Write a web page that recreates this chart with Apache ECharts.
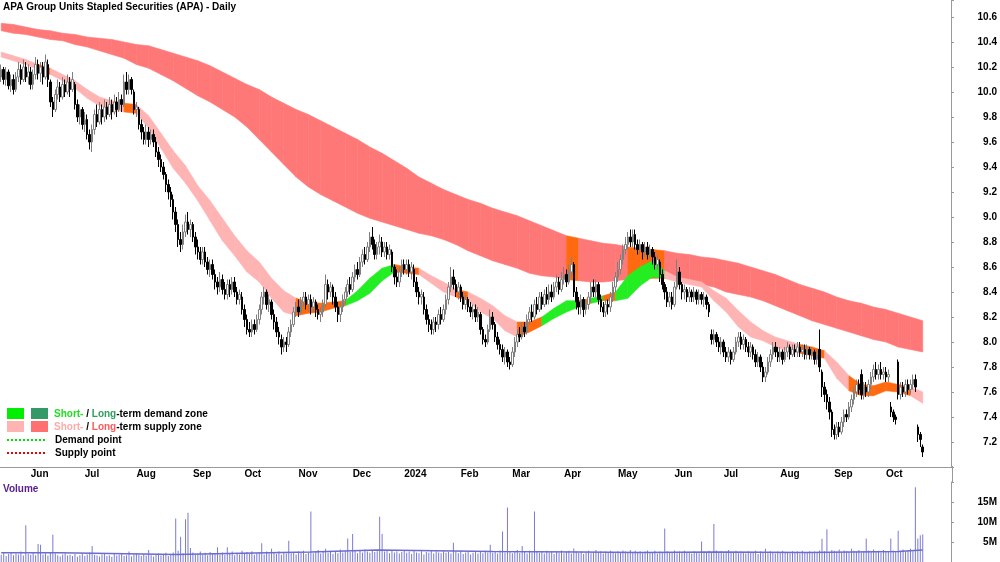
<!DOCTYPE html>
<html>
<head>
<meta charset="utf-8">
<script src="https://cdn.jsdelivr.net/npm/echarts@6/dist/echarts.min.js"></script>
<style>
  html, body { margin: 0; padding: 0; background: #fff; }
  #main { width: 1000px; height: 562px; }
</style>
</head>
<body>
<div id="main"></div>
<script>
// ---- data ----
var startDate = '2023-05-16';   // first bar
var slotCount = 387;            // trading-day slots on the axis (a few empty ones after the last bar)
var monthNames = ['Jan','Feb','Mar','Apr','May','Jun','Jul','Aug','Sep','Oct','Nov','Dec'];

// daily bars: [open, close, low, high]
var candles = [
  [10.12,10.18,10.08,10.22],[10.18,10.10,10.06,10.20],[10.10,10.16,10.05,10.20],[10.16,10.05,10.02,10.18],[10.05,10.10,10.00,10.14],
  [10.10,10.02,9.98,10.14],[10.02,10.12,10.00,10.16],[10.12,10.18,10.08,10.24],[10.18,10.10,10.06,10.22],[10.10,10.20,10.08,10.26],
  [10.20,10.12,10.08,10.24],[10.12,10.16,10.06,10.22],[10.16,10.06,10.02,10.20],[10.06,10.14,10.02,10.18],[10.14,10.22,10.10,10.28],
  [10.22,10.15,10.10,10.26],[10.15,10.20,10.08,10.24],[10.20,10.12,10.06,10.24],[10.12,10.24,10.10,10.30],[10.22,10.10,10.04,10.26],
  [10.08,9.92,9.88,10.10],[9.92,9.86,9.80,9.96],[9.86,9.98,9.84,10.02],[9.98,10.04,9.94,10.10],[10.04,9.96,9.92,10.08],
  [9.96,10.06,9.94,10.12],[10.06,10.00,9.96,10.10],[10.00,10.08,9.98,10.14],[10.08,10.02,9.96,10.12],[10.02,10.10,10.00,10.16],
  [10.06,9.90,9.86,10.08],[9.90,9.80,9.76,9.94],[9.80,9.86,9.74,9.90],[9.86,9.74,9.70,9.88],[9.74,9.78,9.68,9.84],
  [9.78,9.66,9.62,9.82],[9.66,9.60,9.54,9.70],[9.60,9.70,9.52,9.74],[9.70,9.82,9.66,9.86],[9.82,9.76,9.72,9.90],
  [9.76,9.86,9.74,9.92],[9.86,9.80,9.74,9.90],[9.80,9.88,9.76,9.94],[9.88,9.82,9.78,9.92],[9.82,9.90,9.80,9.96],
  [9.90,9.84,9.78,9.94],[9.84,9.92,9.82,9.98],[9.92,9.86,9.80,9.96],[9.86,9.94,9.84,10.00],[9.94,9.90,9.84,9.98],
  [9.90,10.08,9.88,10.14],[10.08,10.02,9.98,10.16],[10.02,10.10,9.98,10.14],[10.10,10.02,9.98,10.12],[10.00,9.86,9.82,10.02],
  [9.86,9.88,9.80,9.92],[9.86,9.74,9.70,9.88],[9.74,9.68,9.62,9.78],[9.68,9.62,9.58,9.72],[9.62,9.68,9.58,9.74],
  [9.68,9.62,9.56,9.72],[9.62,9.66,9.58,9.70],[9.66,9.60,9.56,9.70],[9.60,9.52,9.48,9.64],[9.52,9.46,9.40,9.56],
  [9.46,9.40,9.36,9.50],[9.40,9.34,9.30,9.44],[9.34,9.26,9.20,9.36],[9.26,9.20,9.14,9.30],[9.20,9.14,9.08,9.24],
  [9.14,9.04,8.98,9.18],[9.04,8.94,8.88,9.08],[8.94,8.82,8.76,8.98],[8.82,8.78,8.72,8.88],[8.78,8.88,8.74,8.94],
  [8.88,8.96,8.84,9.02],[8.96,8.90,8.86,9.04],[8.90,8.94,8.84,8.98],[8.94,8.84,8.80,8.96],[8.84,8.76,8.70,8.88],
  [8.76,8.72,8.66,8.82],[8.72,8.66,8.62,8.76],[8.66,8.72,8.62,8.76],[8.72,8.64,8.60,8.76],[8.64,8.58,8.54,8.68],
  [8.58,8.62,8.52,8.66],[8.62,8.54,8.50,8.66],[8.54,8.48,8.42,8.58],[8.48,8.44,8.38,8.52],[8.44,8.50,8.40,8.56],
  [8.50,8.42,8.38,8.54],[8.42,8.38,8.34,8.48],[8.38,8.46,8.34,8.50],[8.46,8.42,8.36,8.50],[8.42,8.48,8.38,8.52],
  [8.48,8.40,8.36,8.52],[8.40,8.34,8.30,8.44],[8.34,8.38,8.30,8.42],[8.36,8.26,8.22,8.40],[8.26,8.18,8.12,8.30],
  [8.18,8.10,8.06,8.22],[8.10,8.08,8.04,8.16],[8.08,8.14,8.04,8.18],[8.14,8.10,8.06,8.18],[8.10,8.18,8.08,8.22],
  [8.18,8.26,8.14,8.30],[8.26,8.36,8.22,8.40],[8.36,8.40,8.30,8.44],[8.40,8.30,8.26,8.42],[8.30,8.34,8.24,8.38],
  [8.32,8.22,8.18,8.34],[8.22,8.16,8.10,8.26],[8.16,8.08,8.04,8.20],[8.08,8.04,7.98,8.12],[8.02,7.96,7.90,8.06],
  [7.96,8.00,7.92,8.04],[8.00,7.98,7.92,8.04],[7.98,8.08,7.96,8.12],[8.08,8.14,8.04,8.18],[8.14,8.24,8.12,8.28],
  [8.24,8.28,8.20,8.32],[8.28,8.24,8.20,8.34],[8.24,8.32,8.22,8.36],[8.32,8.36,8.28,8.40],[8.36,8.30,8.26,8.40],
  [8.30,8.34,8.24,8.38],[8.34,8.28,8.22,8.38],[8.28,8.32,8.24,8.36],[8.32,8.26,8.20,8.34],[8.26,8.22,8.18,8.30],
  [8.22,8.24,8.16,8.28],[8.24,8.30,8.20,8.34],[8.30,8.46,8.28,8.54],[8.46,8.40,8.34,8.50],[8.40,8.44,8.36,8.48],
  [8.44,8.36,8.30,8.46],[8.36,8.28,8.24,8.40],[8.28,8.22,8.16,8.32],[8.22,8.28,8.16,8.32],[8.28,8.34,8.24,8.38],
  [8.34,8.40,8.30,8.44],[8.40,8.46,8.36,8.50],[8.46,8.42,8.38,8.52],[8.42,8.52,8.40,8.56],[8.52,8.58,8.48,8.62],
  [8.58,8.54,8.50,8.64],[8.54,8.64,8.52,8.68],[8.64,8.70,8.60,8.74],[8.70,8.66,8.62,8.76],[8.66,8.76,8.64,8.80],
  [8.76,8.84,8.72,8.88],[8.84,8.78,8.74,8.92],[8.78,8.70,8.66,8.82],[8.70,8.76,8.66,8.80],[8.76,8.80,8.70,8.86],
  [8.80,8.72,8.68,8.84],[8.72,8.76,8.68,8.80],[8.76,8.70,8.66,8.80],[8.70,8.74,8.66,8.78],[8.72,8.60,8.56,8.74],
  [8.60,8.52,8.46,8.62],[8.52,8.48,8.44,8.58],[8.48,8.56,8.44,8.60],[8.56,8.62,8.52,8.66],[8.62,8.58,8.54,8.66],
  [8.58,8.62,8.54,8.66],[8.62,8.56,8.52,8.66],[8.56,8.60,8.50,8.64],[8.58,8.48,8.44,8.62],[8.48,8.40,8.36,8.52],
  [8.40,8.36,8.30,8.44],[8.36,8.38,8.30,8.42],[8.36,8.26,8.22,8.40],[8.26,8.18,8.14,8.30],[8.18,8.14,8.08,8.22],
  [8.14,8.10,8.06,8.18],[8.10,8.16,8.06,8.20],[8.16,8.14,8.08,8.20],[8.14,8.22,8.10,8.26],[8.22,8.18,8.14,8.28],
  [8.18,8.26,8.16,8.30],[8.26,8.34,8.22,8.38],[8.34,8.44,8.30,8.48],[8.44,8.52,8.40,8.60],[8.52,8.46,8.42,8.58],
  [8.46,8.40,8.36,8.50],[8.40,8.44,8.34,8.48],[8.44,8.36,8.32,8.46],[8.36,8.30,8.26,8.40],[8.30,8.34,8.26,8.38],
  [8.34,8.28,8.24,8.36],[8.28,8.24,8.20,8.32],[8.24,8.26,8.18,8.30],[8.26,8.20,8.16,8.30],[8.20,8.24,8.16,8.28],
  [8.22,8.10,8.06,8.24],[8.10,8.02,7.98,8.12],[8.02,8.00,7.96,8.06],[8.00,8.10,7.98,8.14],[8.10,8.20,8.08,8.26],
  [8.20,8.14,8.10,8.24],[8.14,8.04,8.00,8.16],[8.04,7.98,7.94,8.08],[7.98,7.94,7.90,8.02],[7.94,7.88,7.84,7.98],
  [7.88,7.92,7.82,7.96],[7.92,7.84,7.80,7.94],[7.84,7.82,7.78,7.88],[7.82,7.92,7.80,7.96],[7.92,8.00,7.88,8.04],
  [8.00,8.06,7.96,8.10],[8.06,8.04,8.00,8.12],[8.04,8.12,8.02,8.16],[8.12,8.08,8.04,8.16],[8.08,8.18,8.06,8.22],
  [8.18,8.24,8.14,8.28],[8.24,8.20,8.16,8.30],[8.20,8.30,8.18,8.34],[8.30,8.26,8.22,8.36],[8.26,8.36,8.24,8.40],
  [8.36,8.30,8.26,8.40],[8.30,8.38,8.28,8.42],[8.38,8.34,8.30,8.44],[8.34,8.40,8.30,8.46],[8.40,8.36,8.32,8.46],
  [8.36,8.44,8.34,8.48],[8.44,8.48,8.40,8.54],[8.48,8.42,8.38,8.52],[8.42,8.50,8.40,8.56],[8.50,8.54,8.46,8.60],
  [8.54,8.48,8.44,8.58],[8.48,8.56,8.46,8.62],[8.56,8.62,8.52,8.68],[8.62,8.40,8.36,8.64],[8.40,8.32,8.26,8.44],
  [8.32,8.28,8.22,8.36],[8.28,8.34,8.22,8.38],[8.34,8.26,8.20,8.36],[8.26,8.30,8.22,8.34],[8.30,8.36,8.26,8.40],
  [8.36,8.44,8.32,8.48],[8.44,8.40,8.36,8.50],[8.40,8.46,8.36,8.50],[8.46,8.34,8.30,8.48],[8.34,8.28,8.24,8.38],
  [8.28,8.24,8.20,8.32],[8.24,8.30,8.20,8.34],[8.30,8.28,8.22,8.34],[8.28,8.36,8.24,8.40],[8.36,8.44,8.32,8.48],
  [8.44,8.52,8.40,8.56],[8.52,8.58,8.48,8.64],[8.58,8.66,8.54,8.70],[8.66,8.74,8.62,8.78],[8.74,8.78,8.70,8.84],
  [8.78,8.84,8.74,8.88],[8.84,8.80,8.76,8.90],[8.80,8.86,8.76,8.90],[8.86,8.78,8.74,8.90],[8.78,8.74,8.70,8.82],
  [8.74,8.78,8.70,8.82],[8.78,8.72,8.66,8.80],[8.72,8.76,8.68,8.80],[8.76,8.70,8.66,8.80],[8.70,8.74,8.66,8.78],
  [8.74,8.68,8.62,8.76],[8.68,8.62,8.58,8.72],[8.62,8.66,8.58,8.70],[8.64,8.54,8.48,8.66],[8.54,8.46,8.42,8.58],
  [8.46,8.40,8.34,8.48],[8.40,8.32,8.28,8.44],[8.32,8.36,8.28,8.40],[8.36,8.30,8.26,8.40],[8.30,8.44,8.28,8.48],
  [8.44,8.56,8.42,8.66],[8.56,8.46,8.42,8.60],[8.46,8.40,8.34,8.48],[8.40,8.42,8.34,8.46],[8.42,8.36,8.32,8.44],
  [8.36,8.40,8.32,8.44],[8.40,8.36,8.32,8.42],[8.36,8.40,8.32,8.44],[8.40,8.34,8.30,8.42],[8.34,8.38,8.30,8.42],
  [8.38,8.34,8.30,8.40],[8.34,8.36,8.28,8.40],[8.36,8.30,8.26,8.38],[8.30,8.24,8.20,8.32],[8.06,8.02,7.98,8.10],
  [8.02,8.06,7.98,8.10],[8.06,8.00,7.96,8.08],[8.00,7.96,7.92,8.04],[7.96,8.00,7.90,8.04],[8.00,7.92,7.88,8.02],
  [7.92,7.88,7.84,7.96],[7.88,7.92,7.84,7.96],[7.92,7.86,7.82,7.94],[7.86,7.92,7.84,7.96],[7.92,8.00,7.90,8.04],
  [8.00,8.04,7.96,8.08],[8.04,7.98,7.94,8.08],[7.98,8.02,7.94,8.06],[8.02,7.96,7.92,8.04],[7.96,7.92,7.88,8.00],
  [7.92,7.96,7.88,8.00],[7.96,7.90,7.86,7.98],[7.90,7.84,7.80,7.94],[7.84,7.88,7.80,7.92],[7.88,7.80,7.76,7.90],
  [7.80,7.72,7.68,7.84],[7.72,7.76,7.68,7.80],[7.76,7.84,7.74,7.88],[7.84,7.90,7.80,7.94],[7.90,7.96,7.86,8.00],
  [7.96,7.92,7.88,8.00],[7.92,7.88,7.84,7.96],[7.88,7.92,7.84,7.96],[7.92,7.86,7.82,7.94],[7.86,7.92,7.84,7.96],
  [7.92,7.96,7.88,8.00],[7.96,7.90,7.86,7.98],[7.90,7.94,7.88,7.98],[7.94,7.92,7.88,7.98],[7.92,7.96,7.88,8.00],
  [7.96,7.92,7.88,8.00],[7.92,7.94,7.88,7.98],[7.94,7.90,7.86,7.98],[7.90,7.94,7.86,7.98],[7.94,7.90,7.86,7.96],
  [7.90,7.92,7.86,7.96],[7.92,7.86,7.82,7.94],[7.86,7.90,7.82,7.94],[7.94,7.80,7.76,8.10],[7.76,7.64,7.56,7.78],
  [7.64,7.58,7.52,7.68],[7.58,7.52,7.46,7.62],[7.52,7.44,7.38,7.56],[7.44,7.30,7.24,7.46],[7.30,7.26,7.22,7.34],
  [7.26,7.32,7.22,7.36],[7.32,7.28,7.24,7.36],[7.28,7.36,7.26,7.40],[7.36,7.42,7.32,7.46],[7.42,7.40,7.36,7.46],
  [7.40,7.48,7.38,7.52],[7.48,7.54,7.44,7.58],[7.54,7.60,7.50,7.64],[7.60,7.66,7.56,7.70],[7.66,7.62,7.58,7.70],
  [7.74,7.58,7.54,7.78],[7.58,7.64,7.54,7.68],[7.64,7.60,7.56,7.68],[7.60,7.66,7.56,7.70],[7.66,7.72,7.62,7.76],
  [7.72,7.78,7.68,7.82],[7.78,7.74,7.70,7.84],[7.74,7.78,7.70,7.82],[7.78,7.74,7.70,7.84],[7.74,7.76,7.70,7.80],
  [7.76,7.72,7.68,7.80],[7.72,7.74,7.68,7.78],[7.48,7.44,7.40,7.52],[7.44,7.40,7.36,7.46],[7.40,7.38,7.34,7.42],
  [7.84,7.58,7.54,7.86],[7.58,7.64,7.54,7.68],[7.64,7.60,7.56,7.68],[7.60,7.66,7.56,7.70],[7.66,7.62,7.58,7.70],
  [7.62,7.66,7.58,7.70],[7.66,7.70,7.62,7.74],[7.70,7.64,7.60,7.74],[7.32,7.26,7.20,7.34],[7.26,7.22,7.16,7.28],
  [7.16,7.12,7.08,7.18]
];

// daily volume, in units of 100k shares
var volume100k = [
  18,22,15,20,24,17,21,19,26,16,92,20,18,23,17,45,43,19,22,16,
  25,68,21,17,14,19,22,16,18,15,20,13,17,21,15,19,24,40,18,16,
  14,19,22,15,17,13,20,16,18,21,15,17,26,14,19,22,18,15,20,16,
  30,17,14,19,21,16,18,23,15,20,24,109,28,63,22,107,123,35,24,19,
  21,26,18,23,17,25,20,22,37,19,24,18,37,21,26,17,23,19,28,22,
  25,20,27,18,22,24,47,19,26,21,33,23,20,27,18,24,21,53,22,25,
  19,26,23,28,20,24,126,22,27,30,21,25,33,23,28,20,26,22,31,24,
  27,59,25,70,29,22,28,24,31,26,23,29,25,27,113,70,26,30,22,28,
  24,27,21,25,30,23,26,20,28,24,22,27,19,25,23,29,21,26,24,22,
  27,23,25,21,48,26,22,28,20,24,26,19,23,27,21,25,22,28,24,43,
  23,26,21,29,76,24,136,27,22,25,30,23,40,26,21,28,24,126,27,23,
  25,21,28,24,26,20,27,23,29,22,25,28,21,34,27,23,26,20,24,28,
  22,25,30,24,27,21,26,23,28,25,22,27,24,29,26,23,30,25,28,24,
  27,22,26,29,23,25,28,21,26,24,84,27,23,25,29,22,26,24,28,23,
  25,21,27,24,22,51,26,23,28,25,95,29,24,27,22,26,30,23,25,28,
  22,26,24,21,27,25,23,28,20,26,24,33,22,27,25,21,26,23,28,24,
  25,22,27,24,26,21,28,23,25,27,22,26,24,29,58,27,82,25,30,28,
  26,31,24,29,27,25,33,28,26,30,24,27,59,29,25,31,26,28,24,30,
  27,25,59,29,26,78,28,31,26,29,33,27,187,59,67,69
];

// average volume line: [bar index where the level starts, level in 100k]
var volAvgSteps = [[0,23],[24,19],[71,24],[114,25],[126,30],[153,26],[200,25],[235,24],[260,25],[290,24],[328,26],[365,30],[375,30]];

// zone edges, sampled every 5 bars (bar 0, 5, 10 ... 375)
var knotStep = 5;
var longTop = [10.55,10.54,10.52,10.50,10.49,10.47,10.46,10.44,10.43,10.42,10.40,10.38,10.37,10.34,10.31,10.28,10.25,10.21,10.16,10.11,
  10.06,10.02,9.96,9.91,9.86,9.82,9.77,9.72,9.67,9.62,9.56,9.51,9.45,9.39,9.32,9.27,9.22,9.18,9.14,9.11,
  9.07,9.04,9.01,8.97,8.93,8.89,8.85,8.83,8.81,8.79,8.78,8.76,8.75,8.74,8.73,8.71,8.70,8.68,8.67,8.65,
  8.63,8.60,8.57,8.54,8.50,8.46,8.43,8.40,8.36,8.33,8.31,8.28,8.26,8.23,8.20,8.17];
var longBot = [10.49,10.47,10.46,10.44,10.42,10.41,10.38,10.36,10.33,10.30,10.27,10.22,10.19,10.14,10.09,10.03,9.97,9.92,9.86,9.80,
  9.72,9.62,9.52,9.42,9.32,9.24,9.18,9.13,9.08,9.03,8.99,8.96,8.93,8.90,8.87,8.85,8.82,8.78,8.73,8.69,
  8.65,8.62,8.59,8.55,8.53,8.52,8.50,8.49,8.48,8.48,8.49,8.50,8.51,8.51,8.51,8.50,8.48,8.46,8.44,8.40,
  8.38,8.36,8.33,8.29,8.25,8.21,8.17,8.14,8.11,8.08,8.05,8.02,8.00,7.96,7.94,7.92];
// per segment between knots: 0 = supply zone, 1 = orange
var longCol = [0,0,0,0,0,0,0,0,0,0,0,0,0,0,0,0,0,0,0,0,0,0,0,0,0,0,0,0,0,0,0,0,0,0,0,0,0,0,0,0,0,0,0,0,0,0,1,0,0,0,0,1,1,1,0,0,0,0,0,0,0,0,0,0,0,0,0,0,0,0,0,0,0,0,0];

var shortTop = [10.32,10.29,10.26,10.22,10.19,10.14,10.09,10.02,9.96,9.93,9.91,9.90,9.81,9.67,9.53,9.41,9.25,9.13,8.99,8.85,
  8.73,8.64,8.51,8.41,8.35,8.32,8.31,8.32,8.33,8.41,8.51,8.59,8.62,8.60,8.59,8.53,8.48,8.42,8.40,8.35,
  8.29,8.21,8.16,8.16,8.20,8.27,8.33,8.33,8.35,8.37,8.40,8.53,8.60,8.65,8.57,8.52,8.50,8.48,8.41,8.35,
  8.25,8.16,8.09,8.04,8.01,7.98,7.96,7.93,7.84,7.73,7.66,7.65,7.68,7.66,7.64,7.60];
var shortBot = [10.28,10.25,10.22,10.18,10.14,10.09,10.03,9.95,9.89,9.86,9.84,9.83,9.71,9.55,9.39,9.27,9.13,8.97,8.81,8.69,
  8.56,8.48,8.35,8.24,8.21,8.23,8.24,8.27,8.29,8.33,8.39,8.49,8.56,8.55,8.54,8.47,8.40,8.36,8.33,8.24,
  8.19,8.09,8.04,8.08,8.13,8.19,8.24,8.28,8.31,8.33,8.33,8.35,8.45,8.52,8.51,8.48,8.46,8.44,8.33,8.24,
  8.12,8.04,8.01,7.96,7.93,7.91,7.89,7.87,7.71,7.61,7.57,7.57,7.61,7.60,7.57,7.51];
// per segment: 0 = supply, 1 = demand, 2 = orange
var shortCol = [0,0,0,2,0,0,0,0,0,0,2,0,0,0,0,0,0,0,0,0,0,0,0,0,2,2,2,2,1,1,1,1,2,2,0,0,0,2,0,0,
  0,0,2,2,1,1,1,2,1,2,1,1,1,1,0,0,0,0,0,0,0,0,0,0,0,2,2,0,0,2,2,2,2,2,0];

var longColors = ['#ff7878', '#ff6a10'];
var shortColors = ['#ffb4b4', '#22ee22', '#ff6a10'];

// ---- helpers ----
function tradingDays(start, n) {
  var out = [], d = new Date(start + 'T00:00:00Z');
  while (out.length < n) {
    var wd = d.getUTCDay();
    if (wd !== 0 && wd !== 6) out.push(d.toISOString().slice(0, 10));
    d.setUTCDate(d.getUTCDate() + 1);
  }
  return out;
}
var dates = tradingDays(startDate, slotCount);

// month tick/label only where a new month starts inside the data
function isMonthStart(idx) {
  return idx > 0 && idx < candles.length && dates[idx].slice(5, 7) !== dates[idx - 1].slice(5, 7);
}

function bandRows(top, bot, col) {
  var rows = [];
  for (var k = 0; k < top.length - 1; k++) {
    rows.push([k * knotStep, (k + 1) * knotStep, top[k], top[k + 1], bot[k], bot[k + 1], col[k]]);
  }
  return rows;
}

function bandRenderer(colors) {
  return function (params, api) {
    var a = api.coord([api.value(0), api.value(2)]);
    var b = api.coord([api.value(1), api.value(3)]);
    var c = api.coord([api.value(1), api.value(5)]);
    var d = api.coord([api.value(0), api.value(4)]);
    var fill = colors[api.value(6)];
    return {
      type: 'polygon',
      shape: { points: [a, b, c, d] },
      style: { fill: fill, stroke: fill, lineWidth: 0.6 }
    };
  };
}

var FONT = 'Liberation Sans';
var boldText = { fontFamily: FONT, fontSize: 10, fontWeight: 'bold', color: '#000' };

var chart = echarts.init(document.getElementById('main'));

var option = {
  animation: false,
  backgroundColor: '#fff',
  grid: [
    { left: 0, right: 48, top: 0, height: 467 },
    { left: 0, right: 48, top: 482, height: 80 }
  ],
  xAxis: [
    {
      type: 'category', gridIndex: 0, data: dates, boundaryGap: true,
      axisLine: { lineStyle: { color: '#999' } },
      axisTick: { interval: function (i) { return isMonthStart(i); }, length: 3, lineStyle: { color: '#999' } },
      axisLabel: Object.assign({
        interval: function (i) { return isMonthStart(i); },
        align: 'left', margin: 2,
        formatter: function (v) {
          var m = +v.slice(5, 7) - 1;
          return m === 0 ? v.slice(0, 4) : monthNames[m];
        }
      }, boldText),
      splitLine: { show: false }
    },
    {
      type: 'category', gridIndex: 1, data: dates, boundaryGap: true, position: 'top',
      axisLine: { lineStyle: { color: '#999' } },
      axisTick: { show: false }, axisLabel: { show: false }, splitLine: { show: false }
    }
  ],
  yAxis: [
    {
      type: 'value', gridIndex: 0, position: 'right', min: 7.0, max: 10.736, interval: 0.2,
      axisLine: { show: true, lineStyle: { color: '#999' } },
      axisTick: { show: true, length: 3, lineStyle: { color: '#999' } },
      axisLabel: Object.assign({
        align: 'right', margin: 46,
        formatter: function (v) {
          if (v < 7.1 || v > 10.7) return '';
          return v.toFixed(1);
        }
      }, boldText),
      splitLine: { show: false }
    },
    {
      type: 'value', gridIndex: 1, position: 'right', min: 0, max: 200, interval: 50,
      axisLine: { show: true, lineStyle: { color: '#999' } },
      axisTick: { show: true, length: 3, lineStyle: { color: '#999' } },
      axisLabel: Object.assign({
        align: 'right', margin: 46,
        formatter: function (v) { return (v === 0 || v === 200) ? '' : (v / 10) + 'M'; }
      }, boldText),
      splitLine: { show: false }
    }
  ],
  series: [
    {
      name: 'long zone', type: 'custom', xAxisIndex: 0, yAxisIndex: 0, z: 1, clip: true,
      renderItem: bandRenderer(longColors),
      encode: { x: [0, 1], y: [2, 3, 4, 5] },
      data: bandRows(longTop, longBot, longCol)
    },
    {
      name: 'short zone', type: 'custom', xAxisIndex: 0, yAxisIndex: 0, z: 2, clip: true,
      renderItem: bandRenderer(shortColors),
      encode: { x: [0, 1], y: [2, 3, 4, 5] },
      data: bandRows(shortTop, shortBot, shortCol)
    },
    {
      name: 'price', type: 'candlestick', xAxisIndex: 0, yAxisIndex: 0, z: 5,
      barWidth: 2,
      itemStyle: { color: '#fff', color0: '#000', borderColor: '#808080', borderColor0: '#000', borderWidth: 1 },
      data: candles
    },
    {
      name: 'volume', type: 'bar', xAxisIndex: 1, yAxisIndex: 1, barWidth: 1,
      itemStyle: { color: '#7a7ad8' },
      data: volume100k
    },
    {
      name: 'avg volume', type: 'line', xAxisIndex: 1, yAxisIndex: 1, step: 'end',
      symbol: 'none', lineStyle: { color: '#6b6bd0', width: 1.5 },
      data: volAvgSteps
    }
  ],
  graphic: [
    { type: 'text', x: 3, y: 2, style: { text: 'APA Group Units Stapled Securities (APA) - Daily', fill: '#000', fontFamily: FONT, fontSize: 10, fontWeight: 'bold', verticalAlign: 'top' } },
    { type: 'text', x: 3, y: 484, style: { text: 'Volume', fill: '#5a2090', fontFamily: FONT, fontSize: 10, fontWeight: 'bold', verticalAlign: 'top' } },
    // right edge line across the date strip
    { type: 'line', shape: { x1: 952.5, y1: 466, x2: 952.5, y2: 483 }, style: { stroke: '#999', lineWidth: 1 } },
    // legend
    { type: 'rect', shape: { x: 7, y: 408, width: 17, height: 11 }, style: { fill: '#00ee00' } },
    { type: 'rect', shape: { x: 31, y: 408, width: 17, height: 11 }, style: { fill: '#339966' } },
    { type: 'rect', shape: { x: 7, y: 421, width: 17, height: 11 }, style: { fill: '#ffb4b4' } },
    { type: 'rect', shape: { x: 31, y: 421, width: 17, height: 11 }, style: { fill: '#ff7070' } },
    { type: 'text', x: 54, y: 414, style: {
        text: '{a|Short-} / {b|Long}-term demand zone', fill: '#000', fontFamily: FONT, fontSize: 10, fontWeight: 'bold', verticalAlign: 'middle',
        rich: { a: { fill: '#22dd22', fontFamily: FONT, fontSize: 10, fontWeight: 'bold' }, b: { fill: '#2e9e60', fontFamily: FONT, fontSize: 10, fontWeight: 'bold' } } } },
    { type: 'text', x: 54, y: 427, style: {
        text: '{a|Short-} / {b|Long}-term supply zone', fill: '#000', fontFamily: FONT, fontSize: 10, fontWeight: 'bold', verticalAlign: 'middle',
        rich: { a: { fill: '#ffaaaa', fontFamily: FONT, fontSize: 10, fontWeight: 'bold' }, b: { fill: '#ff5a5a', fontFamily: FONT, fontSize: 10, fontWeight: 'bold' } } } },
    { type: 'line', shape: { x1: 7, y1: 440, x2: 45, y2: 440 }, style: { stroke: '#00dd00', lineWidth: 2, lineDash: [2, 2] } },
    { type: 'text', x: 55, y: 440, style: { text: 'Demand point', fill: '#000', fontFamily: FONT, fontSize: 10, fontWeight: 'bold', verticalAlign: 'middle' } },
    { type: 'line', shape: { x1: 7, y1: 453, x2: 45, y2: 453 }, style: { stroke: '#ee0000', lineWidth: 2, lineDash: [2, 2] } },
    { type: 'text', x: 55, y: 453, style: { text: 'Supply point', fill: '#000', fontFamily: FONT, fontSize: 10, fontWeight: 'bold', verticalAlign: 'middle' } }
  ]
};

chart.setOption(option);
</script>
</body>
</html>
